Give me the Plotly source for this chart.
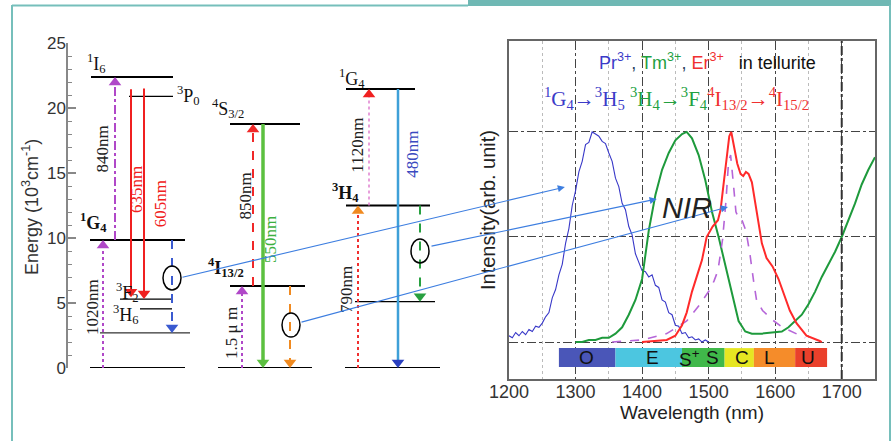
import plotly.graph_objects as go

W, H = 891, 441

# ---------------- data: energy-level diagram (left) ----------------
level_x0 = [90, 91, 129, 90, 120, 140, 100, 218, 230, 230, 345, 355, 346, 346]
level_x1 = [185, 173, 173, 185, 172, 172, 190, 312, 305, 300, 440, 435, 430, 415]
level_e = [0.0, 22.38, 20.9, 9.85, 5.3, 4.55, 2.7, 0.0, 6.3, 18.77, 0.0, 5.1, 12.5, 21.46]
level_w = [2, 2, 1.3, 2, 1.3, 1.3, 1, 2, 2, 2, 2, 1.3, 2, 2]

# transitions: x, start energy, end energy
arrow_x = [103, 115, 131, 144, 172, 242, 253, 263, 290, 358, 369, 398, 420]
arrow_e0 = [0.0, 9.85, 21.45, 21.5, 9.85, 0.0, 6.3, 18.77, 6.3, 0.0, 12.5, 21.46, 12.5]
arrow_e1 = [9.85, 22.38, 5.45, 5.3, 2.7, 6.3, 18.77, 0.0, 0.0, 12.5, 21.46, 0.0, 5.1]
arrow_color = ["#b048c8", "#b048c8", "#f02020", "#f02020", "#3a5ad0", "#b048c8", "#f02828",
               "#5cc040", "#f08a20", "#f03030", "#e080d0", "#3ea0d8", "#28a040"]
arrow_head = ["#b048c8", "#b048c8", "#f02020", "#f02020", "#3a5ad0", "#b048c8", "#f02828",
              "#5cc040", "#f08a20", "#f08a20", "#f02020", "#2a40c0", "#28a040"]
arrow_dash = ["dot", "dashdot", "solid", "solid", "dash", "dot", "dash", "solid", "dash",
              "dot", "dot", "solid", "dash"]
arrow_w = [2, 2, 2, 2, 2, 2, 2, 3.5, 2, 2, 1.5, 2.5, 2]

# transition labels (rotated)
tlabel_text = ["1020nm", "840nm", "635nm", "605nm", "1.5 μ m", "850nm", "550nm", "790nm", "1120nm", "480nm"]
tlabel_x = [93, 103, 137, 160, 232, 245, 271, 346, 358, 413]
tlabel_e = [4.7, 16.8, 13.7, 12.6, 2.7, 13.2, 9.85, 6.0, 17.1, 16.4]
tlabel_color = ["#222", "#222", "#f02020", "#f02020", "#222", "#222", "#3cb040", "#222", "#222", "#3a4ac0"]

# state labels
slabel_text = ["<sup>1</sup>I<sub>6</sub>", "<sup>3</sup>P<sub>0</sub>", "<b><sup>1</sup>G<sub>4</sub></b>",
               "<sup>3</sup>F<sub>2</sub>", "<sup>3</sup>H<sub>6</sub>", "<sup>3</sup>H<sub>4</sub>",
               "<sup>4</sup>S<sub>3/2</sub>", "<b><sup>4</sup>I<sub>13/2</sub></b>", "<sup>4</sup>I<sub>15/2</sub>",
               "<sup>1</sup>G<sub>4</sub>", "<b><sup>3</sup>H<sub>4</sub></b>", "<sup>3</sup>H<sub>6</sub>"]
slabel_x = [96, 188, 93, 127, 126, 132, 228, 226, 259, 352, 345, 375]
slabel_e = [23.45, 21.0, 11.2, 5.8, 4.1, -1.3, 20.0, 7.7, -1.05, 22.3, 13.5, -1.1]

ion_text = ["Pr<sup>3+</sup>", "Er<sup>3+</sup>", "Tm<sup>3+</sup>"]
ion_x = [138, 267, 393]
ion_color = ["#f03030", "#3cb040", "#3a4aa8"]

# ellipses marking NIR transitions (x centre, energy centre)
ell_x = [172, 291, 420]
ell_e = [6.92, 3.3, 9.0]

# ---------------- data: emission spectra (right) ----------------
pr_wl = list(range(1200, 1505, 5))
pr_int = [0.03, 0.02, 0.045, 0.03, 0.05, 0.035, 0.06, 0.05, 0.075, 0.07, 0.09, 0.12, 0.14, 0.21,
          0.25, 0.32, 0.37, 0.47, 0.54, 0.65, 0.72, 0.81, 0.86, 0.94, 0.95, 1.0, 0.99, 0.98,
          0.955, 0.945, 0.9, 0.86, 0.78, 0.74, 0.66, 0.63, 0.55, 0.51, 0.42, 0.38, 0.34, 0.335,
          0.31, 0.32, 0.27, 0.26, 0.2, 0.19, 0.14, 0.13, 0.08, 0.075, 0.04, 0.045, 0.02, 0.025,
          0.01, 0.015, 0.0, 0.01, 0.0]

tm_wl = [1300, 1310, 1320, 1330, 1340, 1350, 1360, 1370, 1380, 1390, 1400, 1410, 1420, 1430,
         1440, 1450, 1460, 1467, 1475, 1485, 1495, 1505, 1515, 1525, 1535, 1545, 1555, 1565,
         1580, 1595, 1610, 1620, 1630, 1640, 1650, 1660, 1670, 1680, 1690, 1700, 1710, 1720,
         1730, 1740, 1750]
tm_int = [0.0, 0.0, 0.01, 0.01, 0.02, 0.02, 0.04, 0.07, 0.13, 0.2, 0.3, 0.53, 0.7, 0.82,
          0.9, 0.96, 0.99, 1.0, 0.97, 0.89, 0.77, 0.62, 0.5, 0.37, 0.23, 0.1, 0.05, 0.04,
          0.04, 0.045, 0.05, 0.07, 0.1, 0.13, 0.18, 0.24, 0.31, 0.37, 0.43, 0.5, 0.58, 0.66,
          0.75, 0.82, 0.88]

er_wl = [1400, 1420, 1437, 1450, 1460, 1467, 1475, 1482, 1490, 1497, 1506, 1514, 1518, 1522,
         1527, 1531, 1534, 1538, 1543, 1548, 1552, 1556, 1560, 1565, 1570, 1575, 1580, 1587,
         1596, 1605, 1612, 1622, 1632, 1647, 1667, 1670]
er_int = [0.0, 0.005, 0.01, 0.03, 0.08, 0.14, 0.24, 0.31, 0.39, 0.5, 0.55, 0.58, 0.63, 0.74,
          0.88, 0.98, 1.0, 0.93, 0.85, 0.8, 0.79, 0.81, 0.8, 0.76, 0.66, 0.55, 0.47, 0.4,
          0.36, 0.3, 0.24, 0.15, 0.09, 0.03, 0.005, 0.0]

er2_wl = [1355, 1400, 1437, 1467, 1487, 1502, 1508, 1514, 1521, 1526, 1530, 1533, 1537, 1541,
          1545, 1549, 1556, 1562, 1568, 1572, 1581, 1596, 1611, 1632, 1645]
er2_int = [0.0, 0.01, 0.04, 0.1, 0.18, 0.25, 0.29, 0.34, 0.49, 0.67, 0.86, 0.89, 0.76, 0.62,
           0.59, 0.59, 0.53, 0.42, 0.28, 0.2, 0.15, 0.105, 0.07, 0.04, 0.02]

band_start = [1275, 1360, 1460, 1524, 1568, 1630]
band_end = [1360, 1460, 1524, 1568, 1630, 1678]
band_color = ["#4a56b8", "#4cc6e0", "#40b84a", "#e6e622", "#f58c2a", "#ea402b"]
band_label = ["O", "E", "S<sup>+</sup>", "S", "C", "L", "U"]
band_label_wl = [1317, 1415, 1471, 1506, 1550, 1592, 1649]

# connectors: from ellipse (left x, energy) to spectrum point (wavelength, intensity)
conn_from_x = [181, 300, 430]
conn_from_e = [6.95, 3.5, 9.35]
conn_to_wl = [1284, 1529, 1422]
conn_to_int = [0.738, 0.643, 0.681]

# ---------------- layout geometry ----------------
L_DOM_X = [68 / W, 470 / W]
L_RANGE_X = [68, 470]
L_DOM_Y = [(H - 368) / H, (H - 43) / H]
L_RANGE_Y = [0, 25]
R_DOM_X = [509 / W, 875 / W]
R_RANGE_X = [1200, 1750]
R_DOM_Y = [(H - 379) / H, (H - 41) / H]
R_RANGE_Y = [-0.176, 1.433]


def to_px(v, dom, rng, size, flip):
    f = dom[0] + (v - rng[0]) / (rng[1] - rng[0]) * (dom[1] - dom[0])
    return (1 - f) * size if flip else f * size


px_per_unit = (L_DOM_Y[1] - L_DOM_Y[0]) * H / (L_RANGE_Y[1] - L_RANGE_Y[0])

serif = "Liberation Serif"
sans = "Liberation Sans"

fig = go.Figure()

# energy levels
for x0, x1, e, w in zip(level_x0, level_x1, level_e, level_w):
    fig.add_trace(go.Scatter(x=[x0, x1], y=[e, e], mode="lines", line=dict(color="black", width=w),
                             xaxis="x", yaxis="y", cliponaxis=False, hoverinfo="skip"))

# transitions
msize = 11
for x, e0, e1, c, hc, d, w in zip(arrow_x, arrow_e0, arrow_e1, arrow_color, arrow_head, arrow_dash, arrow_w):
    up = e1 > e0
    r = msize / 2 / px_per_unit
    ec = e1 - r if up else e1 + r
    fig.add_trace(go.Scatter(x=[x, x], y=[e0, ec], mode="lines", line=dict(color=c, width=w, dash=d),
                             xaxis="x", yaxis="y", cliponaxis=False, hoverinfo="skip"))
    fig.add_trace(go.Scatter(x=[x], y=[ec], mode="markers",
                             marker=dict(symbol="triangle-up" if up else "triangle-down", size=msize,
                                         color=hc, line=dict(width=0)),
                             xaxis="x", yaxis="y", cliponaxis=False, hoverinfo="skip"))

# spectra
fig.add_trace(go.Scatter(x=pr_wl, y=pr_int, mode="lines", line=dict(color="#3838c8", width=1.1),
                         xaxis="x2", yaxis="y2", hoverinfo="skip"))
fig.add_trace(go.Scatter(x=tm_wl, y=tm_int, mode="lines", line=dict(color="#1e9a3c", width=2),
                         xaxis="x2", yaxis="y2", hoverinfo="skip"))
fig.add_trace(go.Scatter(x=er2_wl, y=er2_int, mode="lines", line=dict(color="#b565d8", width=1.6, dash="dash"),
                         xaxis="x2", yaxis="y2", hoverinfo="skip"))
fig.add_trace(go.Scatter(x=er_wl, y=er_int, mode="lines", line=dict(color="#ff2a2a", width=2),
                         xaxis="x2", yaxis="y2", hoverinfo="skip"))

shapes = []
annotations = []

# ellipses
for x, e in zip(ell_x, ell_e):
    shapes.append(dict(type="circle", xref="x", yref="y", x0=x - 9, x1=x + 9,
                       y0=e - 12 / px_per_unit, y1=e + 12 / px_per_unit,
                       line=dict(color="black", width=1.5)))

# bands
for b0, b1, c in zip(band_start, band_end, band_color):
    shapes.append(dict(type="rect", xref="x2", yref="y2", x0=b0, x1=b1, y0=-0.119, y1=-0.029,
                       fillcolor=c, line=dict(width=0), layer="above"))
for t, wl in zip(band_label, band_label_wl):
    annotations.append(dict(x=wl, y=-0.074, xref="x2", yref="y2", text=t, showarrow=False,
                            font=dict(family=sans, size=19, color="#111")))

# bold 1700 grid line
shapes.append(dict(type="line", xref="x2", yref="y2", x0=1700, x1=1700, y0=R_RANGE_Y[0], y1=R_RANGE_Y[1],
                   line=dict(color="#333", width=2, dash="dashdot")))

# teal frame
teal = "#76bfbb"
shapes.append(dict(type="rect", xref="paper", yref="paper", x0=468 / W, x1=1, y0=(H - 6) / H, y1=1,
                   fillcolor="#6fb8b4", line=dict(width=0)))
shapes.append(dict(type="line", xref="paper", yref="paper", x0=12 / W, x1=468 / W, y0=(H - 5.5) / H,
                   y1=(H - 5.5) / H, line=dict(color=teal, width=2)))
shapes.append(dict(type="line", xref="paper", yref="paper", x0=12 / W, x1=12 / W, y0=0, y1=(H - 5) / H,
                   line=dict(color=teal, width=2)))
shapes.append(dict(type="line", xref="paper", yref="paper", x0=890 / W, x1=890 / W, y0=0, y1=(H - 5) / H,
                   line=dict(color=teal, width=2)))

# transition labels
for t, x, e, c in zip(tlabel_text, tlabel_x, tlabel_e, tlabel_color):
    annotations.append(dict(x=x, y=e, xref="x", yref="y", text=t, textangle=-90, showarrow=False,
                            font=dict(family=serif, size=17, color=c)))

# state labels
for t, x, e in zip(slabel_text, slabel_x, slabel_e):
    annotations.append(dict(x=x, y=e, xref="x", yref="y", text=t, showarrow=False,
                            font=dict(family=serif, size=18, color="#111")))

# ion labels
for t, x, c in zip(ion_text, ion_x, ion_color):
    annotations.append(dict(x=x, y=-3.2, xref="x", yref="y", text=t, showarrow=False,
                            font=dict(family=sans, size=18, color=c)))

# left axis title
annotations.append(dict(x=31 / W, y=(H - 207) / H, xref="paper", yref="paper", textangle=-90,
                        xanchor="center", yanchor="middle",
                        text="Energy (10<sup>3</sup>cm<sup>-1</sup>)", showarrow=False,
                        font=dict(family=sans, size=18, color="#333")))

# connectors
for fx, fe, tw, ti in zip(conn_from_x, conn_from_e, conn_to_wl, conn_to_int):
    sx = to_px(fx, L_DOM_X, L_RANGE_X, W, False)
    sy = to_px(fe, L_DOM_Y, L_RANGE_Y, H, True)
    hx = to_px(tw, R_DOM_X, R_RANGE_X, W, False)
    hy = to_px(ti, R_DOM_Y, R_RANGE_Y, H, True)
    annotations.append(dict(x=hx / W, y=1 - hy / H, xref="paper", yref="paper", text="",
                            showarrow=True, ax=sx - hx, ay=sy - hy, axref="pixel", ayref="pixel",
                            arrowhead=2, arrowsize=1.3, arrowwidth=1.1, arrowcolor="#3d7ee0"))

# spectrum titles
annotations.append(dict(x=1498, y=1.335, xref="x2", yref="y2", showarrow=False,
                        text='<span style="color:#3b3bc8">Pr<sup>3+</sup></span>, '
                             '<span style="color:#22a040">Tm<sup>3+</sup></span>, '
                             '<span style="color:#f03030">Er<sup>3+</sup></span>'
                             '   <span style="color:#111">in tellurite</span>',
                        font=dict(family=sans, size=18)))
annotations.append(dict(x=1452, y=1.16, xref="x2", yref="y2", showarrow=False,
                        text='<span style="color:#3b3bc8"><sup>1</sup>G<sub>4</sub>→<sup>3</sup>H<sub>5</sub></span> '
                             '<span style="color:#22a040"><sup>3</sup>H<sub>4</sub>→<sup>3</sup>F<sub>4</sub></span>'
                             '<span style="color:#f03030"><sup>4</sup>I<sub>13/2</sub>→<sup>4</sup>I<sub>15/2</sub></span>',
                        font=dict(family=serif, size=21)))
annotations.append(dict(x=1467, y=0.64, xref="x2", yref="y2", showarrow=False, text="<i>NIR</i>",
                        font=dict(family=sans, size=29, color="#222")))

fig.update_layout(
    width=W, height=H, margin=dict(l=0, r=0, t=0, b=0, autoexpand=False),
    paper_bgcolor="white", plot_bgcolor="white", showlegend=False,
    shapes=shapes, annotations=annotations,
    xaxis=dict(domain=L_DOM_X, range=L_RANGE_X, visible=False, anchor="y", automargin=False),
    yaxis=dict(domain=L_DOM_Y, range=L_RANGE_Y, anchor="x", showline=True, linecolor="#888", linewidth=1.5,
               automargin=False, ticklabelstandoff=-3,
               ticks="inside", ticklen=8, tickwidth=1.5, tickcolor="#888", dtick=5, tick0=0,
               minor=dict(ticks="inside", ticklen=4, dtick=1, tickcolor="#888", tickwidth=1),
               showgrid=False, zeroline=False,
               tickfont=dict(family=sans, size=17, color="#333")),
    xaxis2=dict(domain=R_DOM_X, range=R_RANGE_X, anchor="y2", showline=True, mirror=True, linecolor="#666",
                automargin=False, ticklabelstandoff=-4,
                linewidth=1.5, ticks="", dtick=100, tick0=1200, showgrid=True, gridcolor="#444",
                griddash="dashdot", gridwidth=1, zeroline=False,
                minor=dict(dtick=50, showgrid=True, gridcolor="#bbb", griddash="dot", gridwidth=1),
                tickfont=dict(family=sans, size=18, color="#333"),
                title=dict(text="Wavelength (nm)", font=dict(family=sans, size=19, color="#222"), standoff=0)),
    yaxis2=dict(domain=R_DOM_Y, range=R_RANGE_Y, anchor="x2", showline=True, mirror=True, linecolor="#666",
                automargin=False,
                linewidth=1.5, ticks="", tickvals=[0, 0.5, 1.0], showticklabels=False, showgrid=True,
                gridcolor="#444", griddash="dashdot", gridwidth=1, zeroline=False,
                title=dict(text="Intensity(arb. unit)", font=dict(family=sans, size=20, color="#222"), standoff=6)),
)

fig.write_html("out.html")
